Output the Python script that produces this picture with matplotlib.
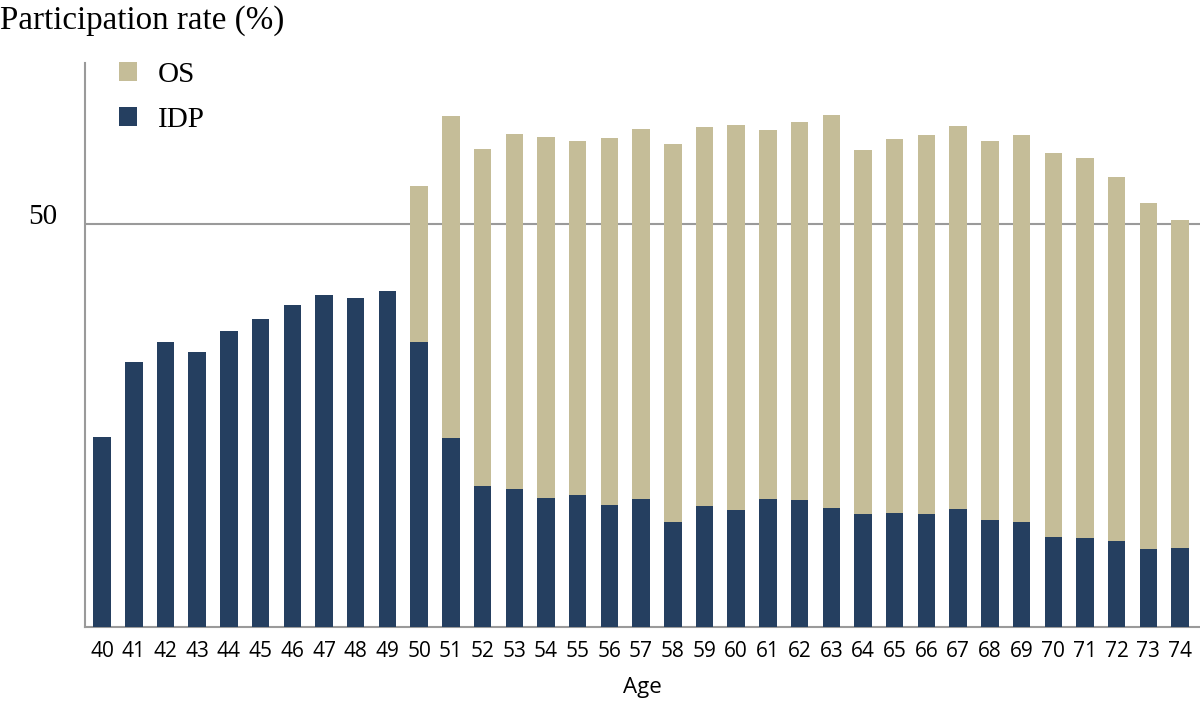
import matplotlib.pyplot as plt
import numpy as np

# Participation rate by age
ages = list(range(40, 75))
idp = [23.6, 32.9, 35.4, 34.1, 36.7, 38.2, 40.0, 41.2, 40.9, 41.7,
       35.4, 23.5, 17.5, 17.2, 16.0, 16.4, 15.1, 15.9, 13.0, 15.0,
       14.5, 15.9, 15.8, 14.8, 14.0, 14.2, 14.0, 14.7, 13.3, 13.0,
       11.2, 11.0, 10.7, 9.7, 9.8]
total = [23.6, 32.9, 35.4, 34.1, 36.7, 38.2, 40.0, 41.2, 40.9, 41.7,
         54.8, 63.4, 59.3, 61.2, 60.9, 60.4, 60.7, 61.8, 60.0, 62.1,
         62.3, 61.7, 62.7, 63.6, 59.2, 60.6, 61.1, 62.2, 60.4, 61.1,
         58.8, 58.2, 55.9, 52.6, 50.6]
os_part = [t - i for t, i in zip(total, idp)]

idp_color = '#253F60'
os_color = '#C5BD98'
axis_color = '#9A9A9A'

fig = plt.figure(figsize=(12, 7.03), dpi=100)
ax = fig.add_axes([0.0708, 0.108, 0.929, 0.802])

x = np.array(ages)
ax.bar(x, idp, width=0.55, color=idp_color, label='IDP', zorder=3)
ax.bar(x, os_part, width=0.55, bottom=idp, color=os_color, label='OS', zorder=3)

ax.set_xlim(39.46, 74.62)
ax.set_ylim(0, 70)

# gridline at 50 only
ax.axhline(50, color=axis_color, linewidth=1.5, zorder=1)
ax.set_yticks([50])
ax.set_yticklabels(['50'], fontfamily='Liberation Serif', fontsize=21, va='baseline')
ax.set_xticks(x)
ax.set_xticklabels([str(a) for a in ages], fontfamily='Open Sans', fontsize=15)
ax.tick_params(axis='both', length=0)
ax.tick_params(axis='y', pad=20)
ax.tick_params(axis='x', pad=10)

for side in ['top', 'right']:
    ax.spines[side].set_visible(False)
for side in ['left', 'bottom']:
    ax.spines[side].set_color(axis_color)
    ax.spines[side].set_linewidth(1.5)

ax.set_xlabel('Age', fontfamily='Open Sans', fontsize=16, labelpad=11)

fig.text(0.0, 0.993, 'Participation rate (%)', fontfamily='Liberation Serif',
         fontsize=23.8, ha='left', va='top')

handles, labels = ax.get_legend_handles_labels()
leg = fig.legend(handles[::-1], labels[::-1], loc='upper left',
                 bbox_to_anchor=(119 / 1200, 1 - 62 / 703), frameon=False,
                 borderpad=0, borderaxespad=0,
                 prop={'family': 'Liberation Serif', 'size': 21},
                 handlelength=0.62, handleheight=0.62, handletextpad=0.72,
                 labelspacing=0.65)

fig.savefig('out.png', dpi=100)
